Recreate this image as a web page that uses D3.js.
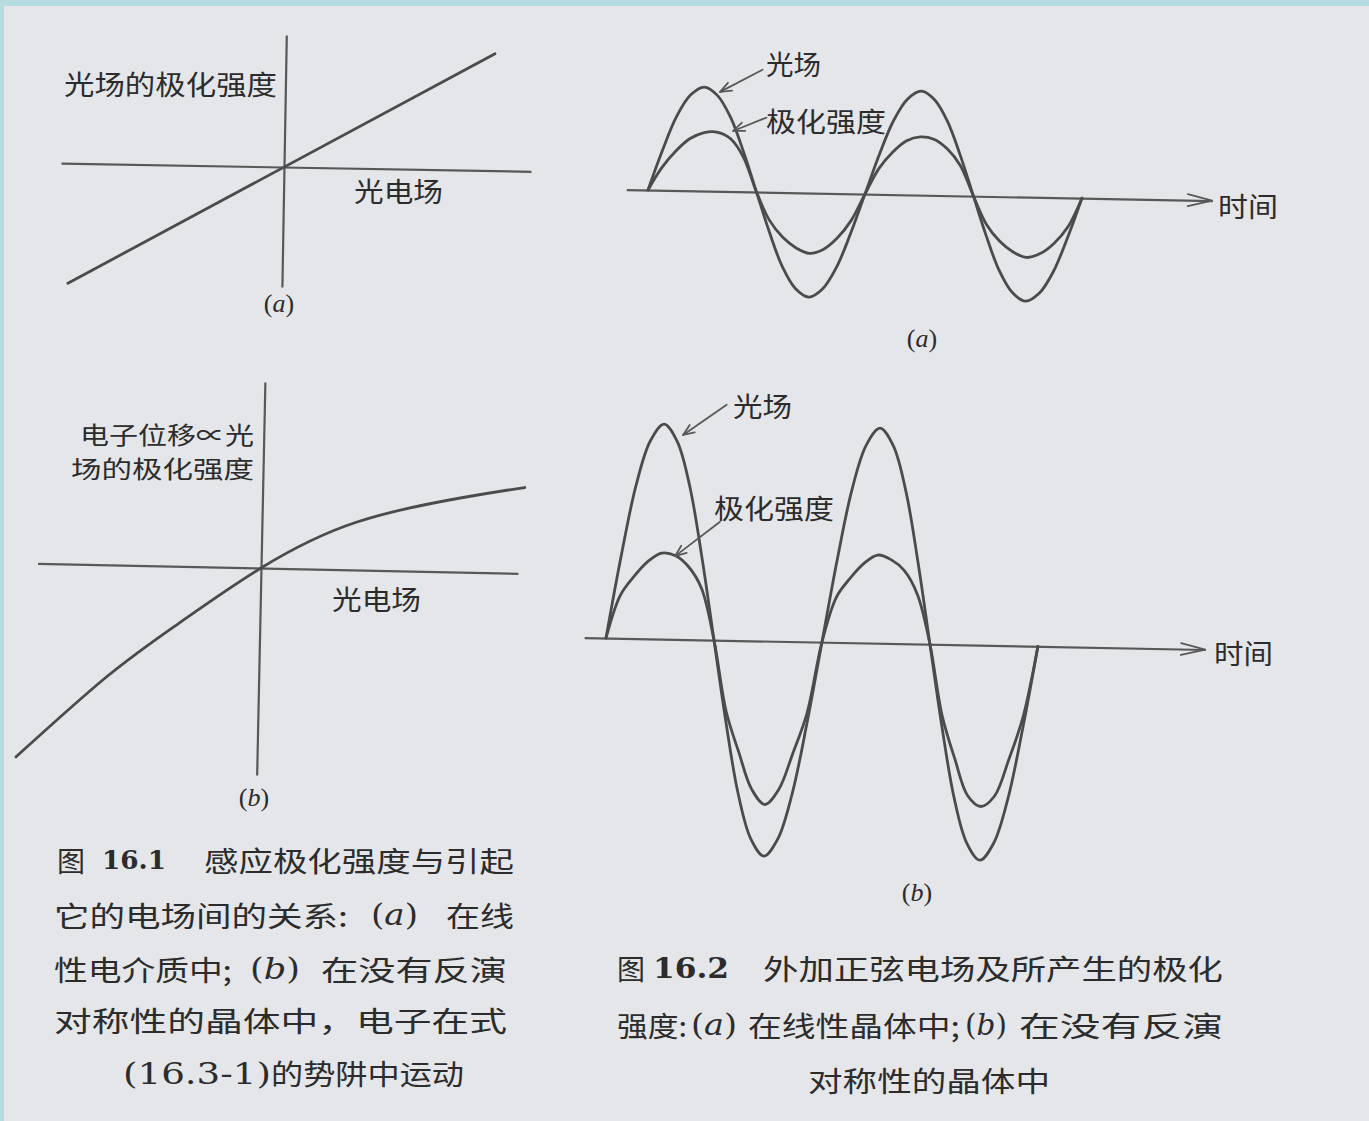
<!DOCTYPE html>
<html>
<head>
<meta charset="utf-8">
<script src="https://cdn.jsdelivr.net/npm/d3@7"></script>
<style>
  html, body { margin: 0; padding: 0; background: #b5dce0; }
  svg { display: block; }
</style>
</head>
<body>
<svg id="fig" width="1369" height="1121"></svg>
<script>
// ---------- data ----------
// Fig 16.1(a): linear dielectric, polarization proportional to the field
const linField = [-2.14, 2.09];
const linPolar = [-1.20, 1.17];

// Fig 16.1(b): crystal without inversion symmetry (saturating response)
const nlField = [-2.41, -1.52, -0.81, 0, 0.95, 2.02, 2.62];
const nlPolar = [-1.94, -1.12, -0.57, 0, 0.48, 0.75, 0.86];

// Fig 16.2: time samples (1 unit = 1/8 of a period), two full periods
const timeSteps = [0, 0.5, 1, 1.5, 2, 2.5, 3, 3.5, 4, 4.5, 5, 5.5, 6, 6.5, 7, 7.5,
                   8, 8.5, 9, 9.5, 10, 10.5, 11, 11.5, 12, 12.5, 13, 13.5, 14, 14.5, 15, 15.5, 16];

// (a) linear crystal: applied field and polarization
const fieldWaveA = [0, 0.38, 0.71, 0.92, 1.00, 0.92, 0.71, 0.38, 0, -0.38, -0.71, -0.92, -1.00, -0.92, -0.71, -0.38,
                    0, 0.38, 0.71, 0.92, 1.00, 0.92, 0.71, 0.38, 0, -0.38, -0.71, -0.92, -1.00, -0.92, -0.71, -0.38, 0];
const polarWaveA = [0, 0.22, 0.38, 0.50, 0.56, 0.57, 0.51, 0.33, 0, -0.27, -0.43, -0.53, -0.58, -0.54, -0.43, -0.26,
                    0, 0.25, 0.41, 0.52, 0.56, 0.54, 0.45, 0.29, 0, -0.27, -0.43, -0.53, -0.58, -0.54, -0.44, -0.28, 0];

// (b) crystal without inversion symmetry
const fieldWaveB = [0, 0.38, 0.71, 0.92, 1.00, 0.92, 0.71, 0.38, 0, -0.38, -0.71, -0.92, -1.00, -0.92, -0.71, -0.38,
                    0, 0.38, 0.71, 0.92, 1.00, 0.92, 0.71, 0.38, 0, -0.38, -0.71, -0.92, -1.00, -0.92, -0.71, -0.38, 0];
const polarWaveB = [0, 0.20, 0.29, 0.36, 0.40, 0.39, 0.34, 0.24, 0, -0.33, -0.52, -0.69, -0.76, -0.69, -0.52, -0.33,
                    0, 0.21, 0.30, 0.37, 0.41, 0.39, 0.34, 0.23, 0, -0.33, -0.53, -0.70, -0.75, -0.70, -0.53, -0.33, 0];

// ---------- page ----------
const W = 1369, H = 1121;
const svg = d3.select("#fig");
const INK = "#2c2c2c", CURVE = "#4b4b4b", AXIS = "#585858";
const CJK = "'Noto Sans CJK SC', 'Noto Sans CJK JP', sans-serif";
const SERIF = "'DejaVu Serif', 'Liberation Serif', serif";

svg.append("rect").attr("width", W).attr("height", H).attr("fill", "#b5dce0");
svg.append("rect").attr("x", 4).attr("y", 6).attr("width", W - 4).attr("height", H - 6).attr("fill", "#e4e6e9");

function panel(ox, oy, deg) {
  return svg.append("g").attr("transform", `translate(${ox},${oy}) rotate(${deg})`);
}

// plain axis line drawn by d3.axis with no ticks
function hAxis(g, x, y0) {
  const a = g.append("g").attr("transform", `translate(0,${y0})`)
    .call(d3.axisBottom(x).tickValues([]).tickSizeOuter(0));
  a.select(".domain").attr("stroke", AXIS).attr("stroke-width", 2.2);
  return a;
}
function vAxis(g, y, x0) {
  const a = g.append("g").attr("transform", `translate(${x0},0)`)
    .call(d3.axisLeft(y).tickValues([]).tickSizeOuter(0));
  a.select(".domain").attr("stroke", AXIS).attr("stroke-width", 2.2);
  return a;
}
function arrowHead(g, tx, ty, ang, len, spread, w) {
  const pts = [-spread, spread].map(s => {
    const a = ang + Math.PI + s;
    return [tx + len * Math.cos(a), ty + len * Math.sin(a)];
  });
  g.append("path")
    .attr("d", `M${pts[0][0]},${pts[0][1]} L${tx},${ty} L${pts[1][0]},${pts[1][1]}`)
    .attr("fill", "none").attr("stroke", AXIS).attr("stroke-width", w)
    .attr("stroke-linejoin", "round").attr("stroke-linecap", "round");
}
function drawCurve(g, xs, ys, x, y, curve) {
  const pts = xs.map((v, i) => [v, ys[i]]);
  g.append("path")
    .datum(pts)
    .attr("d", d3.line().x(d => x(d[0])).y(d => y(d[1])).curve(curve))
    .attr("fill", "none").attr("stroke", CURVE).attr("stroke-width", 2.8)
    .attr("stroke-linecap", "round").attr("stroke-linejoin", "round");
}
// annotation pointer: tip given in data units, tail as a pixel offset
function pointer(g, x, y, t, v, dx, dy) {
  const tx = x(t), ty = y(v);
  g.append("line").attr("x1", tx + dx).attr("y1", ty + dy).attr("x2", tx).attr("y2", ty)
    .attr("stroke", AXIS).attr("stroke-width", 1.8).attr("stroke-linecap", "round");
  arrowHead(g, tx, ty, Math.atan2(-dy, -dx), 12, 0.38, 1.8);
}

function label(text, x, yc, len, size) {
  svg.append("text").attr("x", x).attr("y", yc)
    .attr("dominant-baseline", "central")
    .attr("font-family", CJK).attr("font-size", size || 27).attr("fill", INK)
    .attr("textLength", len).attr("lengthAdjust", "spacingAndGlyphs")
    .text(text);
}
// several lines in one text element
function labelLines(lines, size) {
  const t = svg.append("text")
    .attr("font-family", CJK).attr("font-size", size || 27).attr("fill", INK);
  lines.forEach(l => {
    t.append("tspan").attr("x", l.x).attr("y", l.y)
      .attr("dominant-baseline", "central")
      .attr("textLength", l.len).attr("lengthAdjust", "spacingAndGlyphs")
      .text(l.t);
  });
}
function subLabel(letter, cx, cy) {
  const t = svg.append("text").attr("x", cx).attr("y", cy)
    .attr("text-anchor", "middle").attr("dominant-baseline", "central")
    .attr("font-family", "'Liberation Serif', serif").attr("font-size", 26).attr("fill", INK);
  t.append("tspan").text("(");
  t.append("tspan").attr("font-style", "italic").text(letter);
  t.append("tspan").text(")");
}

// ---------- Fig 16.1(a) ----------
{
  const g = panel(284, 167, 1.0);
  const x = d3.scaleLinear().domain([-2.23, 2.47]).range([-223, 247]);
  const y = d3.scaleLinear().domain([-1.20, 1.32]).range([120, -132]);
  hAxis(g, x, y(0));
  vAxis(g, y, x(0));
  drawCurve(g, linField, linPolar, x, y, d3.curveLinear);
  label("光场的极化强度", 64, 83, 213);
  label("光电场", 354, 190, 89);
  subLabel("a", 279, 303);
}

// ---------- Fig 16.1(b) ----------
{
  const g = panel(261, 568, 1.2);
  const x = d3.scaleLinear().domain([-2.235, 2.57]).range([-223.5, 257]);
  const y = d3.scaleLinear().domain([-2.07, 1.86]).range([207, -186]);
  hAxis(g, x, y(0));
  vAxis(g, y, x(0));
  drawCurve(g, nlField, nlPolar, x, y, d3.curveNatural);
  labelLines([{ t: "电子位移∝光", x: 80, y: 433, len: 174 },
              { t: "场的极化强度", x: 71, y: 467, len: 183 }], 24);
  label("光电场", 332, 598, 89);
  subLabel("b", 254, 797);
}

// ---------- Fig 16.2(a) ----------
{
  const g = panel(648, 190, 1.08);
  const x = d3.scaleLinear().domain([0, 16]).range([0, 434]);
  const y = d3.scaleLinear().domain([-1, 1]).range([104, -104]);
  const ax = d3.scaleLinear().domain([-0.8, 20.8]).range([x(-0.8), x(20.8)]);
  hAxis(g, ax, y(0));
  arrowHead(g, x(20.8), y(0), 0, 25, 0.24, 1.8);
  const smooth = d3.curveCatmullRom.alpha(0.5);
  drawCurve(g, timeSteps, fieldWaveA, x, y, smooth);
  drawCurve(g, timeSteps, polarWaveA, x, y, smooth);
  pointer(g, x, y, 2.59, 0.956, 42, -23);
  pointer(g, x, y, 3.10, 0.583, 33, -14);
  label("光场", 766, 63, 55);
  label("极化强度", 766, 120, 120);
  label("时间", 1218, 205, 60);
  subLabel("a", 922, 338);
}

// ---------- Fig 16.2(b) ----------
{
  const g = panel(606, 638, 1.1);
  const x = d3.scaleLinear().domain([0, 16]).range([0, 432]);
  const y = d3.scaleLinear().domain([-1, 1]).range([215, -215]);
  const ax = d3.scaleLinear().domain([-0.81, 22.2]).range([x(-0.81), x(22.2)]);
  hAxis(g, ax, y(0));
  arrowHead(g, x(22.2), y(0), 0, 25, 0.24, 1.8);
  const smooth = d3.curveCatmullRom.alpha(0.5);
  drawCurve(g, timeSteps, fieldWaveB, x, y, smooth);
  drawCurve(g, timeSteps, polarWaveB, x, y, smooth);
  pointer(g, x, y, 2.71, 0.951, 43, -31);
  pointer(g, x, y, 2.50, 0.387, 44, -35);
  label("光场", 733, 405, 59);
  label("极化强度", 714, 507, 120);
  label("时间", 1214, 652, 59);
  subLabel("b", 917, 892);
}

// ---------- captions ----------
function cap(parts, yc) {
  parts.forEach(p => {
    const t = svg.append("text").attr("x", p.x).attr("y", yc)
      .attr("dominant-baseline", "central").attr("fill", INK)
      .attr("font-size", p.size || 28)
      .attr("font-family", p.serif ? SERIF : CJK)
      .attr("font-weight", p.bold ? "bold" : "normal");
    if (p.len) t.attr("textLength", p.len).attr("lengthAdjust", "spacingAndGlyphs");
    if (p.letter) {
      t.append("tspan").text("(");
      t.append("tspan").attr("font-style", "italic").text(p.letter);
      t.append("tspan").text(")");
    } else {
      t.text(p.t);
    }
  });
}

// Fig 16.1 caption
cap([{ t: "图", x: 57, len: 28 },
     { t: "16.1", x: 102, len: 64, serif: true, bold: true, size: 26 },
     { t: "感应极化强度与引起", x: 204, len: 310 }], 860);
cap([{ t: "它的电场间的关系:", x: 54, len: 294 },
     { letter: "a", x: 371, len: 47, serif: true, size: 29 },
     { t: "在线", x: 446, len: 68 }], 915);
cap([{ t: "性电介质中;", x: 54, len: 178 },
     { letter: "b", x: 250, len: 50, serif: true, size: 29 },
     { t: "在没有反演", x: 321, len: 186 }], 969);
cap([{ t: "对称性的晶体中，电子在式", x: 54, len: 453 }], 1020);
cap([{ t: "(16.3-1)", x: 123, len: 148, serif: true, size: 30 },
     { t: "的势阱中运动", x: 271, len: 193 }], 1073);

// Fig 16.2 caption
cap([{ t: "图", x: 617, len: 28 },
     { t: "16.2", x: 653, len: 76, serif: true, bold: true, size: 27 },
     { t: "外加正弦电场及所产生的极化", x: 763, len: 460 }], 968);
cap([{ t: "强度:", x: 617, len: 70 },
     { letter: "a", x: 691, len: 46, serif: true, size: 29 },
     { t: "在线性晶体中;", x: 748, len: 212 },
     { letter: "b", x: 965, len: 42, serif: true, size: 29 },
     { t: "在没有反演", x: 1019, len: 204 }], 1025);
cap([{ t: "对称性的晶体中", x: 808, len: 242 }], 1080);
</script>
</body>
</html>
